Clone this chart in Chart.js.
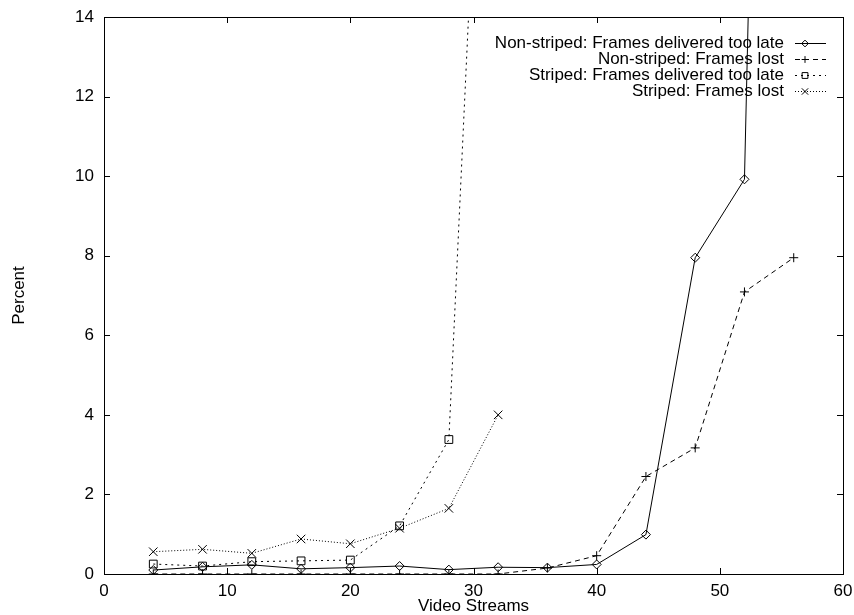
<!DOCTYPE html>
<html>
<head>
<meta charset="utf-8">
<script src="https://cdn.jsdelivr.net/npm/chart.js@4/dist/chart.umd.min.js"></script>
<style>
  body { margin: 0; background: #fff; }
  #wrap { width: 854px; height: 615px; position: relative; }
</style>
</head>
<body>
<div id="wrap"><canvas id="chart"></canvas></div>
<script>
// Values
const lateStreams = [4, 8, 12, 16, 20, 24, 28, 32, 36, 40, 44, 48, 52, 56];
const nonStripedLate = [0.1, 0.18, 0.23, 0.13, 0.16, 0.2, 0.11, 0.17, 0.16, 0.24, 0.99, 7.95, 9.92, 64];
const lostStreams = [4, 8, 12, 16, 20, 24, 28, 32, 36, 40, 44, 48, 52, 56];
const nonStripedLost = [0, 0, 0, 0, 0, 0, 0, 0, 0.15, 0.46, 2.45, 3.17, 7.09, 7.95];
const stripedStreams = [4, 8, 12, 16, 20, 24, 28, 32];
const stripedLate = [0.25, 0.2, 0.31, 0.33, 0.35, 1.21, 3.38, 30];
const stripedLost = [0.56, 0.62, 0.52, 0.88, 0.76, 1.15, 1.65, 4.0];

const xTicks = [0, 10, 20, 30, 40, 50, 60];
const yTicks = [0, 2, 4, 6, 8, 10, 12, 14];

const FONT = 'Liberation Sans, Arial, Helvetica, sans-serif';
const FSIZE = 17;

const toPoints = (xs, ys) => ys.map((y, i) => ({ x: xs[i], y }));

// gnuplot style frame with inward ticks on all four sides
const frame = {
    id: 'frame',
    afterDatasetsDraw(chart) {
        const { ctx, chartArea: a, scales } = chart;
        ctx.save();
        ctx.strokeStyle = '#000';
        ctx.lineWidth = 1;
        ctx.strokeRect(Math.round(a.left) + 0.5, Math.round(a.top) + 0.5,
            Math.round(a.right - a.left), Math.round(a.bottom - a.top));
        const len = 6;
        ctx.beginPath();
        xTicks.forEach(v => {
            const px = Math.round(scales.x.getPixelForValue(v)) + 0.5;
            ctx.moveTo(px, a.bottom); ctx.lineTo(px, a.bottom - len);
            ctx.moveTo(px, a.top); ctx.lineTo(px, a.top + len);
        });
        yTicks.forEach(v => {
            const py = Math.round(scales.y.getPixelForValue(v)) + 0.5;
            ctx.moveTo(a.left, py); ctx.lineTo(a.left + len, py);
            ctx.moveTo(a.right, py); ctx.lineTo(a.right - len, py);
        });
        ctx.stroke();
        ctx.restore();
    }
};

// legend: right aligned text, line sample with marker to the right
const keyBox = {
    id: 'keyBox',
    afterDraw(chart) {
        const { ctx } = chart;
        ctx.save();
        ctx.font = FSIZE + 'px ' + FONT;
        ctx.textAlign = 'right';
        ctx.textBaseline = 'middle';
        chart.data.datasets.forEach((ds, i) => {
            const y = 43 + i * 16;
            ctx.fillStyle = '#000';
            ctx.fillText(ds.label, 784, y);
            ctx.strokeStyle = '#000';
            ctx.lineWidth = 1;
            ctx.setLineDash(ds.borderDash || []);
            ctx.beginPath();
            ctx.moveTo(795, Math.round(y) + 0.5);
            ctx.lineTo(826, Math.round(y) + 0.5);
            ctx.stroke();
            ctx.setLineDash([]);
            ctx.fillStyle = 'rgba(0,0,0,0)';
            Chart.helpers.drawPoint(ctx, {
                pointStyle: ds.pointStyle,
                radius: ds.pointRadius * 0.75,
                borderWidth: 1
            }, 805, Math.round(y) + 0.5);
        });
        ctx.restore();
    }
};

const common = {
    borderColor: '#000',
    backgroundColor: 'rgba(0,0,0,0)',
    pointBorderColor: '#000',
    pointBackgroundColor: 'rgba(0,0,0,0)',
    borderWidth: 1,
    pointBorderWidth: 1,
    tension: 0
};

const noEdgePad = s => {
    s.paddingTop = 0; s.paddingBottom = 0;
    s.paddingLeft = 0; s.paddingRight = 0;
};

new Chart(document.getElementById('chart'), {
    type: 'line',
    data: {
        datasets: [
            { ...common, label: 'Non-striped: Frames delivered too late', data: toPoints(lateStreams, nonStripedLate), pointStyle: 'rectRot', pointRadius: 4.5 },
            { ...common, label: 'Non-striped: Frames lost', data: toPoints(lostStreams, nonStripedLost), borderDash: [5, 4], pointStyle: 'cross', pointRadius: 4.5 },
            { ...common, label: 'Striped: Frames delivered too late', data: toPoints(stripedStreams, stripedLate), borderDash: [2, 4], pointStyle: 'rect', pointRadius: 5.5 },
            { ...common, label: 'Striped: Frames lost', data: toPoints(stripedStreams, stripedLost), borderDash: [1, 2], pointStyle: 'crossRot', pointRadius: 6 }
        ]
    },
    options: {
        responsive: true,
        maintainAspectRatio: false,
        animation: false,
        layout: { padding: { top: 17, right: 11, left: 0, bottom: 0 } },
        plugins: {
            legend: { display: false },
            tooltip: { enabled: false }
        },
        scales: {
            x: {
                type: 'linear',
                min: 0,
                max: 60,
                afterFit: s => { s.height = 41; noEdgePad(s); },
                afterBuildTicks: s => { s.ticks = xTicks.map(v => ({ value: v })); },
                grid: { display: false, drawTicks: false },
                border: { display: false },
                ticks: { color: '#000', padding: 7, maxRotation: 0, font: { family: FONT, size: FSIZE } },
                title: { display: true, text: 'Video Streams', color: '#000', padding: { top: 0, bottom: -2 }, font: { family: FONT, size: FSIZE } }
            },
            y: {
                type: 'linear',
                min: 0,
                max: 14,
                afterFit: s => { s.width = 104; noEdgePad(s); },
                afterBuildTicks: s => { s.ticks = yTicks.map(v => ({ value: v })); },
                grid: { display: false, drawTicks: false },
                border: { display: false },
                ticks: { color: '#000', padding: 10, font: { family: FONT, size: FSIZE } },
                title: { display: true, text: 'Percent', color: '#000', padding: { top: 9, bottom: 0 }, font: { family: FONT, size: FSIZE } }
            }
        }
    },
    plugins: [frame, keyBox]
});
</script>
</body>
</html>
